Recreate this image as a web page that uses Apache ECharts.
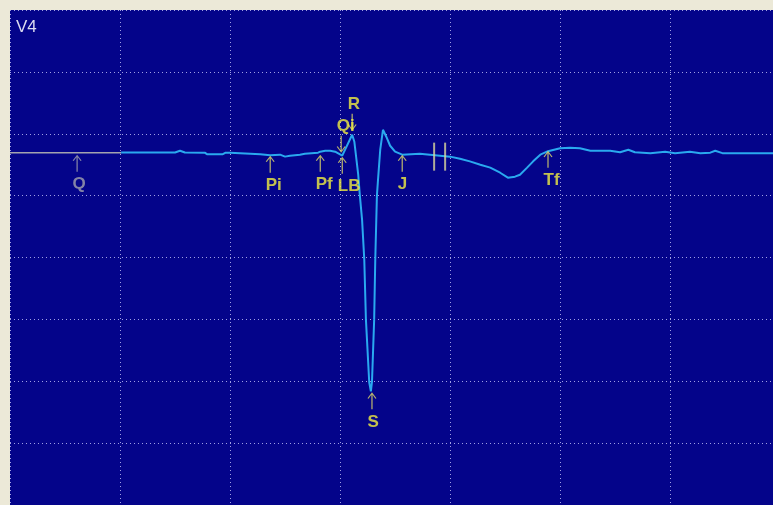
<!DOCTYPE html>
<html>
<head>
<meta charset="utf-8">
<script src="https://cdn.jsdelivr.net/npm/echarts@6/dist/echarts.min.js"></script>
<style>
  html, body { margin: 0; padding: 0; background: #ece9d8; }
  #chartmain { width: 773px; height: 505px; }
</style>
</head>
<body>
<div id="chartmain"></div>
<script>
// time in ms (200 ms per grid), amplitude in mV (0.5 mV per grid)
var leadName = 'V4';
var ecgX = [202, 250, 300, 309, 318, 354, 358, 387, 392, 400, 455, 473, 491, 500, 509, 527, 536, 560, 564, 573, 582, 591, 604,
	622, 626, 633, 636, 640, 644, 647, 653, 656, 658, 662, 664, 667, 669, 673, 678, 684, 691, 700, 713, 745, 800, 818,
	836, 855, 873, 891, 905, 918, 927, 940, 951, 964, 978, 1000, 1018, 1036, 1055, 1091, 1109, 1124, 1136, 1164, 1191,
	1209, 1236, 1255, 1273, 1282, 1295, 1387];
var ecgY = [-0.151, -0.152, -0.152, -0.137, -0.152, -0.153, -0.165, -0.165, -0.153, -0.153, -0.165, -0.173, -0.169, -0.185,
	-0.177, -0.169, -0.161, -0.153, -0.145, -0.137, -0.137, -0.145, -0.177,
	-0.008, -0.065, -0.331, -0.5, -0.694, -1.016, -1.5, -2.008, -2.081, -2.008, -1.5, -1.016, -0.5, -0.371, -0.129, 0.032,
	-0.024, -0.097, -0.145, -0.169, -0.161, -0.185, -0.202,
	-0.223, -0.25, -0.274, -0.315, -0.355, -0.347, -0.331, -0.274, -0.223, -0.169, -0.141, -0.117, -0.113, -0.117, -0.137,
	-0.137, -0.149, -0.129, -0.149, -0.157, -0.145, -0.157, -0.145, -0.157, -0.153, -0.137, -0.157, -0.157];
var qLineX = [0, 202];
var qLineY = [-0.153, -0.153];

// markers pointing up (label below)
var upNames = ['Q', 'Pi', 'Pf', 'LB', 'J', 'Tf', 'S'];
var upX = [122, 473, 564, 604, 713, 978, 658];
var upY = [-0.169, -0.177, -0.169, -0.185, -0.169, -0.137, -2.089];
// markers pointing down (label above)
var downNames = ['Qi', 'R'];
var downX = [602, 622];
var downY = [-0.153, 0.024];
// calipers "||"
var barX = [771, 791];
var barY = [-0.185, -0.185];

var upPath = 'path://M5,0 L10,7 L8.8,7.6 L5.7,3 L5.7,20 L4.3,20 L4.3,3 L1.2,7.6 L0,7 Z';
var downPath = 'path://M5,20 L10,13 L8.8,12.4 L5.7,17 L5.7,0 L4.3,0 L4.3,17 L1.2,12.4 L0,13 Z';
var yellow = '#f4f040';
var arrowCol = '#e2dc68';
var grey = '#a4a4ae';

function zip(xs, ys) {
	var out = [];
	for (var i = 0; i < xs.length; i++) out.push([xs[i], ys[i]]);
	return out;
}

var upArrows = [], upLabels = [];
for (var i = 0; i < upNames.length; i++) {
	var col = upNames[i] == 'Q' ? grey : arrowCol;
	upArrows.push({ value: [upX[i], upY[i]], itemStyle: { color: col } });
	upLabels.push({ value: [upX[i], upY[i]], name: upNames[i],
		label: { color: upNames[i] == 'Q' ? grey : yellow } });
}
var downArrows = [], downLabels = [];
for (var j = 0; j < downNames.length; j++) {
	downArrows.push([downX[j], downY[j]]);
	downLabels.push({ value: [downX[j], downY[j]], name: downNames[j] });
}

var labelFont = {
	fontFamily: '"Liberation Sans Narrow", "Liberation Sans", Arial, sans-serif',
	fontSize: 17,
	fontWeight: 'bold',
	color: yellow
};

var option = {
	animation: false,
	backgroundColor: '#ece9d8',
	title: {
		text: leadName,
		left: 11,
		top: 14,
		textStyle: { color: '#dcdcf0', fontSize: 17, fontWeight: 'normal', fontFamily: 'Liberation Sans, Arial, sans-serif' }
	},
	grid: {
		left: 10,
		top: 10,
		right: 0,
		bottom: -1,
		show: true,
		backgroundColor: '#04048a',
		borderWidth: 0
	},
	xAxis: {
		type: 'value',
		min: 0,
		max: 1387,
		interval: 200,
		axisLine: { show: false },
		axisTick: { show: false },
		axisLabel: { show: false },
		splitLine: { show: true, lineStyle: { color: '#a0a0e4', width: 1, type: [1, 3] } }
	},
	yAxis: {
		type: 'value',
		min: -3,
		max: 1,
		interval: 0.5,
		axisLine: { show: false },
		axisTick: { show: false },
		axisLabel: { show: false },
		splitLine: { show: true, lineStyle: { color: '#a0a0e4', width: 1, type: [1, 3] } }
	},
	series: [
		{
			name: 'baseline',
			type: 'line',
			data: zip(qLineX, qLineY),
			symbol: 'none',
			lineStyle: { color: grey, width: 1.5 },
			z: 3
		},
		{
			name: leadName,
			type: 'line',
			data: zip(ecgX, ecgY),
			symbol: 'none',
			lineStyle: { color: '#2aa9ef', width: 2 },
			z: 3
		},
		{
			name: 'calipers',
			type: 'scatter',
			data: zip(barX, barY),
			symbol: 'rect',
			symbolSize: [2, 28],
			itemStyle: { color: '#dcd89c' },
			z: 4
		},
		{
			name: 'upArrows',
			type: 'scatter',
			data: upArrows,
			symbol: upPath,
			symbolSize: [9, 17],
			symbolOffset: [0, 8.5],
			symbolKeepAspect: false,
			itemStyle: { color: arrowCol },
			z: 5
		},
		{
			name: 'downArrows',
			type: 'scatter',
			data: downArrows,
			symbol: downPath,
			symbolSize: [9, 17],
			symbolOffset: [0, -8.5],
			symbolKeepAspect: false,
			itemStyle: { color: arrowCol },
			z: 5
		},
		{
			name: 'upLabels',
			type: 'scatter',
			data: upLabels,
			symbolSize: 0,
			label: Object.assign({
				show: true,
				position: 'inside',
				align: 'left',
				verticalAlign: 'middle',
				offset: [-4.5, 30],
				formatter: '{b}'
			}, labelFont),
			z: 6
		},
		{
			name: 'downLabels',
			type: 'scatter',
			data: downLabels,
			symbolSize: 0,
			label: Object.assign({
				show: true,
				position: 'inside',
				align: 'left',
				verticalAlign: 'middle',
				offset: [-4.5, -26],
				formatter: '{b}'
			}, labelFont),
			z: 6
		}
	]
};

var myChart = echarts.init(document.getElementById('chartmain'));
myChart.setOption(option);
</script>
</body>
</html>
